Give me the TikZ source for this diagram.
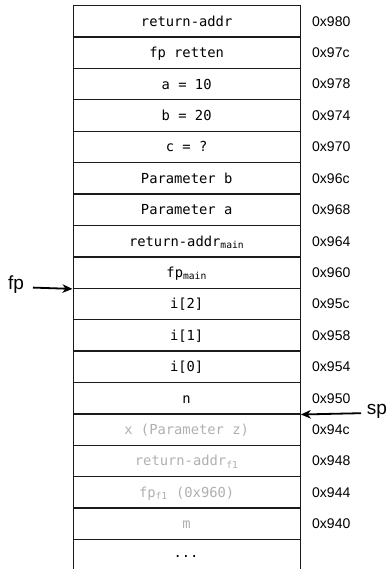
\documentclass[tikz,border=0pt]{standalone}
\usepackage{fontspec}
\setmainfont{Liberation Sans}
\newfontfamily\codefont{DejaVu Sans Mono}
\usetikzlibrary{arrows.meta,calc}

\definecolor{framecol}{HTML}{1A1A1A}
\definecolor{fadedtext}{HTML}{B0B0B0}

\tikzset{
  cell/.style={draw=framecol, line width=1.3pt, anchor=north west,
               minimum width=227pt, minimum height=31.4pt, inner sep=0pt},
  code/.style={anchor=base, inner sep=0pt, font=\codefont\fontsize{13.8}{16}\selectfont},
  fadedcode/.style={code, text=fadedtext},
  addr/.style={anchor=base west, inner sep=0pt, font=\fontsize{14}{16}\selectfont},
  reglabel/.style={inner sep=0pt, font=\fontsize{19}{22}\selectfont},
  ptr/.style={-{Stealth[length=10pt,width=8.5pt,inset=3pt]}, line width=1.8pt, draw=black}
}

\begin{document}
\begin{tikzpicture}[x=1pt, y=-1pt]
  \useasboundingbox (0,0) rectangle (390,569);

  % stack frame cells, top (high address) to bottom
  \foreach \i/\txt/\adr/\sty in {
      0/{return-addr}/0x980/code,
      1/{fp retten}/0x97c/code,
      2/{a = 10}/0x978/code,
      3/{b = 20}/0x974/code,
      4/{c = ?}/0x970/code,
      5/{Parameter b}/0x96c/code,
      6/{Parameter a}/0x968/code,
      7/{return-addr\textsubscript{main}}/0x964/code,
      8/{fp\textsubscript{main}}/0x960/code,
      9/{i[2]}/0x95c/code,
      10/{i[1]}/0x958/code,
      11/{i[0]}/0x954/code,
      12/{n}/0x950/code,
      13/{x (Parameter z)}/0x94c/fadedcode,
      14/{return-addr\textsubscript{f1}}/0x948/fadedcode,
      15/{fp\textsubscript{f1} (0x960)}/0x944/fadedcode,
      16/{m}/0x940/fadedcode} {
    \node[cell] (r\i) at (72.5, 5+31.4*\i) {};
    \node[\sty] (t\i) at ($(r\i.center)+(0,5)$) {\txt};
    \node[addr] (a\i) at (312, 5+31.4*\i+15.7+5.5) {\adr};
  }
  \node[cell, minimum height=33pt] (r17) at (72.5, 5+31.4*17) {};
  \node[code] (t17) at (186, 5+31.4*17+15.7+3) {...};

  % frame pointer and stack pointer
  \node[reglabel] (fplbl) at (16, 285) {fp};
  \coordinate (fptail) at (33, 287.6);
  \draw[ptr] (fptail) -- (r8.south west);

  \node[reglabel] (splbl) at (377, 411) {sp};
  \coordinate (sptail) at (361, 413.2);
  \draw[ptr] (sptail) -- (r12.south east);
\end{tikzpicture}
\end{document}
